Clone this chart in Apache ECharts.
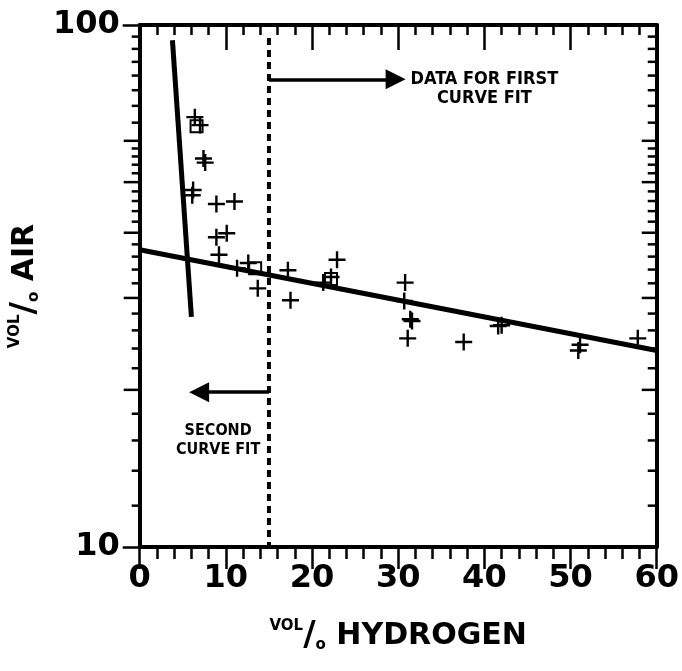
<!DOCTYPE html>
<html><head><meta charset="utf-8">
<script src="https://cdn.jsdelivr.net/npm/echarts@6/dist/echarts.min.js"></script>
<style>html,body{margin:0;padding:0;background:#fff}#c{width:682px;height:671px}</style>
</head><body><div id="c"></div>
<script>
// ---- data ----
const xTickLabels = [0, 10, 20, 30, 40, 50, 60];
const yTickLabels = [10, 100];
const hydrogen = [6.4, 7.0, 7.4, 7.6, 6.2, 6.1, 8.9, 11.0, 8.9, 10.1, 9.2, 11.3, 12.6, 13.7, 17.2, 17.5, 22.9, 22.2, 21.3, 30.8, 30.7, 31.4, 31.6, 31.1, 37.6, 41.6, 42.0, 51.1, 50.9, 57.8];
const air      = [66.6, 64.3, 55.5, 54.5, 48.3, 47.2, 45.4, 45.9, 39.2, 39.9, 36.3, 34.2, 35.0, 31.3, 33.9, 29.7, 35.5, 32.9, 32.1, 32.1, 29.6, 27.3, 27.1, 25.1, 24.7, 26.5, 26.6, 24.4, 23.8, 25.1];
const boxHydrogen = [6.6, 13.4, 22.2];
const boxAir      = [64.0, 34.2, 32.6];
const firstFitHydrogen = [0, 60];
const firstFitAir      = [37.1, 23.8];
const secondFitHydrogen = [3.8, 6.0];
const secondFitAir      = [93.5, 27.6];
const splitHydrogen = [15, 15];
const splitAir      = [94.4, 10];
const arrowFirst  = [[15, 78.7], [29.7, 78.7]];
const arrowSecond = [[15, 19.8], [6.9, 19.8]];
const noteFirst  = {text: 'DATA FOR FIRST\nCURVE FIT', at: [40.0, 75.4]};
const noteSecond = {text: 'SECOND\nCURVE FIT', at: [9.1, 16.0]};
const yLongTicks  = [20, 30, 40, 50, 60];
const yShortTicks = [12, 14, 16, 18, 22, 24, 26, 28, 32, 34, 36, 38, 42, 44, 46, 48, 52, 54, 56, 58, 65, 70, 75, 80, 85, 90, 95];

const zip = (a, b) => a.map((v, i) => [v, b[i]]);
const FONT = 'DejaVu Sans';
const black = '#000';
const plusPath = 'path://M7.3,0H9.7V17H7.3Z M0,7.3H17V9.7H0Z';

const tickData = yLongTicks.map(v => [0, v, 1]).concat(yShortTicks.map(v => [0, v, 0]));

const chart = echarts.init(document.getElementById('c'), null, {renderer: 'canvas'});
const titleRich = {
  sup: {fontSize: 15, fontWeight: 'bold', fontFamily: FONT, color: black, verticalAlign: 'top'},
  sl: {fontSize: 34, fontWeight: 'bold', fontFamily: FONT, color: black},
  sub: {fontSize: 15, fontWeight: 'bold', fontFamily: FONT, color: black, verticalAlign: 'bottom'},
  main: {fontSize: 30, fontWeight: 'bold', fontFamily: FONT, color: black}
};
chart.setOption({
  animation: false,
  backgroundColor: '#fff',
  grid: {left: 137, right: 21, top: 25, bottom: 124, containLabel: false},
  xAxis: [{
    type: 'value', min: 0, max: 60, interval: 10, position: 'bottom',
    axisLine: {show: true, onZero: false, lineStyle: {color: black, width: 4}},
    axisTick: {show: true, length: 22, lineStyle: {color: black, width: 2.5}},
    minorTick: {show: true, splitNumber: 5, length: 12, lineStyle: {color: black, width: 2.5}},
    splitLine: {show: false},
    axisLabel: {fontSize: 32, fontWeight: 'bold', fontFamily: FONT, color: black, margin: 16,
      formatter: v => xTickLabels.includes(v) ? String(v) : ''},
    name: '{sup|VOL}{sl|/}{sub|o}{main| HYDROGEN}',
    nameLocation: 'middle', nameGap: 72,
    nameTextStyle: {rich: titleRich}
  }, {
    type: 'value', min: 0, max: 60, interval: 10, position: 'top',
    axisLine: {show: true, onZero: false, lineStyle: {color: black, width: 4}},
    axisTick: {show: true, inside: true, length: 25, lineStyle: {color: black, width: 2.5}},
    minorTick: {show: true, splitNumber: 5, length: 10, lineStyle: {color: black, width: 2.5}},
    splitLine: {show: false}, axisLabel: {show: false}
  }],
  yAxis: [{
    type: 'log', logBase: 10, min: 10, max: 100, position: 'left',
    axisLine: {show: true, onZero: false, lineStyle: {color: black, width: 4}},
    axisTick: {show: true, length: 17, lineStyle: {color: black, width: 2.5}},
    splitLine: {show: false}, minorTick: {show: false},
    axisLabel: {fontSize: 32, fontWeight: 'bold', fontFamily: FONT, color: black, margin: 20,
      formatter: v => yTickLabels.includes(v) ? String(v) : ''},
    name: '{sup|VOL}{sl|/}{sub|o}{main| AIR}',
    nameLocation: 'middle', nameGap: 82, nameRotate: 90,
    nameTextStyle: {rich: titleRich}
  }, {
    type: 'log', logBase: 10, min: 10, max: 100, position: 'right',
    axisLine: {show: true, onZero: false, lineStyle: {color: black, width: 4}},
    axisTick: {show: false}, splitLine: {show: false}, axisLabel: {show: false}
  }],
  series: [
    {type: 'scatter', data: zip(hydrogen, air), symbol: plusPath, symbolSize: 17,
      itemStyle: {color: black, opacity: 1}, z: 5},
    {type: 'scatter', data: zip(boxHydrogen, boxAir), symbol: 'rect', symbolSize: 12,
      itemStyle: {color: 'rgba(0,0,0,0)', borderColor: black, borderWidth: 2, opacity: 1}, z: 5},
    {type: 'line', data: zip(firstFitHydrogen, firstFitAir), symbol: 'none',
      lineStyle: {color: black, width: 5}, z: 4},
    {type: 'line', data: zip(secondFitHydrogen, secondFitAir), symbol: 'none',
      lineStyle: {color: black, width: 5}, z: 4},
    {type: 'line', data: zip(splitHydrogen, splitAir), symbol: 'none',
      lineStyle: {color: black, width: 4, type: [7, 5]}, z: 4},
    {type: 'lines', coordinateSystem: 'cartesian2d', z: 6,
      data: [{coords: arrowFirst}, {coords: arrowSecond}],
      symbol: ['none', 'triangle'], symbolSize: 20,
      lineStyle: {color: black, width: 3.5, opacity: 1, curveness: 0}},
    {type: 'scatter', symbolSize: 1, itemStyle: {color: 'rgba(0,0,0,0)', opacity: 1}, z: 7,
      data: [{name: noteFirst.text, value: noteFirst.at}],
      label: {show: true, position: 'inside', formatter: p => p.name, align: 'center', verticalAlign: 'middle',
        fontFamily: 'DejaVu Sans Condensed', fontWeight: 'bold', fontSize: 18, lineHeight: 19, color: black, opacity: 1}},
    {type: 'scatter', symbolSize: 1, itemStyle: {color: 'rgba(0,0,0,0)', opacity: 1}, z: 7,
      data: [{name: noteSecond.text, value: noteSecond.at}],
      label: {show: true, position: 'inside', formatter: p => p.name, align: 'center', verticalAlign: 'middle',
        fontFamily: 'DejaVu Sans Condensed', fontWeight: 'bold', fontSize: 16, lineHeight: 19, color: black, opacity: 1}},
    {type: 'custom', clip: false, silent: true, z: 3, data: tickData,
      encode: {x: 0, y: 1},
      renderItem: function (params, api) {
        const v = api.value(1), isLong = api.value(2);
        const pl = api.coord([0, v]);
        const pr = api.coord([60, v]);
        const ll = isLong ? 16 : 8, lr = isLong ? 15 : 9;
        return {type: 'group', children: [
          {type: 'line', shape: {x1: pl[0] - ll, y1: pl[1], x2: pl[0], y2: pl[1]}, style: {stroke: black, lineWidth: 2.5}},
          {type: 'line', shape: {x1: pr[0] - lr, y1: pr[1], x2: pr[0], y2: pr[1]}, style: {stroke: black, lineWidth: 2.5}}
        ]};
      }}
  ]
});
</script>
</body></html>
